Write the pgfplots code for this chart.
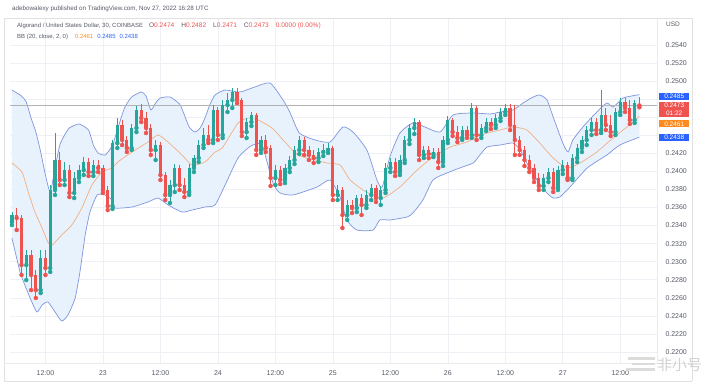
\documentclass[border=0pt]{standalone}
\usepackage{pgfplots}
\pgfplotsset{compat=1.18}
\usepackage{pgfplotstable}
\usepgfplotslibrary{fillbetween}
\usepackage{fontspec}
\setmainfont{Liberation Sans}
\newfontfamily\cjk{Noto Sans CJK SC}
\definecolor{cgreen}{HTML}{26A69A}
\definecolor{cred}{HTML}{EF5350}
\definecolor{cband}{HTML}{7F95DC}
\definecolor{cfill}{HTML}{E8F2FD}
\definecolor{cmid}{HTML}{F4AE80}
\definecolor{cblue}{HTML}{2962FF}
\definecolor{corange}{HTML}{FF8A1F}
\definecolor{ctext}{HTML}{555A66}
\definecolor{cgrid}{HTML}{EEF0F5}

\pgfplotstableread{
h O H L C
5 0.23440 0.23550 0.23406 0.23517
6 0.23517 0.23595 0.23351 0.23484
7 0.23484 0.23517 0.22853 0.22963
8 0.22963 0.23130 0.22797 0.23074
9 0.23074 0.23130 0.22686 0.22853
10 0.22853 0.22908 0.22598 0.22686
11 0.22686 0.23130 0.22653 0.23041
12 0.23041 0.23130 0.22853 0.22930
13 0.22930 0.23849 0.22886 0.23794
14 0.23794 0.24425 0.23739 0.24126
15 0.24126 0.24215 0.23849 0.23905
16 0.23905 0.24104 0.23849 0.24015
17 0.24015 0.24071 0.23716 0.23761
18 0.23761 0.23993 0.23705 0.23927
19 0.23927 0.24071 0.23882 0.24015
20 0.24015 0.24159 0.23960 0.24104
21 0.24104 0.24148 0.23949 0.23993
22 0.23993 0.24126 0.23949 0.24071
23 0.24071 0.24126 0.23993 0.24038
24 0.24038 0.24071 0.23761 0.23794
25 0.23794 0.23838 0.23572 0.23617
26 0.23617 0.24348 0.23584 0.24314
27 0.24314 0.24591 0.24259 0.24514
28 0.24514 0.24569 0.24292 0.24348
29 0.24348 0.24392 0.24215 0.24259
30 0.24259 0.24525 0.24237 0.24481
31 0.24481 0.24724 0.24436 0.24680
32 0.24680 0.24746 0.24547 0.24591
33 0.24591 0.24658 0.24425 0.24481
34 0.24481 0.24525 0.24182 0.24237
35 0.24237 0.24348 0.24126 0.24292
36 0.24292 0.24325 0.23905 0.23960
37 0.23960 0.23993 0.23683 0.23739
38 0.23739 0.23905 0.23650 0.23849
39 0.23849 0.24082 0.23772 0.24038
40 0.24038 0.24071 0.23794 0.23849
41 0.23849 0.23927 0.23716 0.23772
42 0.23772 0.24082 0.23739 0.24038
43 0.24038 0.24182 0.23993 0.24148
44 0.24148 0.24348 0.24104 0.24292
45 0.24292 0.24481 0.24259 0.24403
46 0.24403 0.24514 0.24314 0.24348
47 0.24348 0.24735 0.24314 0.24680
48 0.24680 0.24713 0.24348 0.24403
49 0.24403 0.24791 0.24370 0.24735
50 0.24735 0.24868 0.24658 0.24791
51 0.24791 0.24924 0.24702 0.24879
52 0.24879 0.24924 0.24757 0.24791
53 0.24791 0.24813 0.24392 0.24436
54 0.24436 0.24591 0.24370 0.24547
55 0.24547 0.24658 0.24503 0.24625
56 0.24625 0.24647 0.24182 0.24237
57 0.24237 0.24392 0.24204 0.24348
58 0.24348 0.24403 0.24215 0.24259
59 0.24259 0.24292 0.23838 0.23927
60 0.23927 0.24071 0.23849 0.24015
61 0.24015 0.24060 0.23860 0.23905
62 0.23905 0.24082 0.23871 0.24038
63 0.24038 0.24170 0.23993 0.24126
64 0.24126 0.24281 0.24082 0.24237
65 0.24237 0.24392 0.24193 0.24348
66 0.24348 0.24381 0.24182 0.24237
67 0.24237 0.24281 0.24126 0.24182
68 0.24182 0.24237 0.24093 0.24148
69 0.24148 0.24259 0.24104 0.24215
70 0.24215 0.24303 0.24170 0.24237
71 0.24237 0.24314 0.24204 0.24259
72 0.24259 0.24281 0.23683 0.23739
73 0.23739 0.23849 0.23683 0.23794
74 0.23794 0.23827 0.23373 0.23517
75 0.23517 0.23683 0.23462 0.23628
76 0.23628 0.23683 0.23539 0.23595
77 0.23595 0.23739 0.23550 0.23705
78 0.23705 0.23750 0.23517 0.23628
79 0.23628 0.23794 0.23595 0.23739
80 0.23739 0.23860 0.23683 0.23816
81 0.23816 0.23849 0.23661 0.23705
82 0.23705 0.23838 0.23628 0.23794
83 0.23794 0.24093 0.23761 0.24038
84 0.24038 0.24148 0.23993 0.24104
85 0.24104 0.24148 0.23949 0.23993
86 0.23993 0.24182 0.23960 0.24126
87 0.24126 0.24392 0.24093 0.24348
88 0.24348 0.24525 0.24303 0.24481
89 0.24481 0.24591 0.24414 0.24547
90 0.24547 0.24569 0.24126 0.24182
91 0.24182 0.24281 0.24148 0.24237
92 0.24237 0.24281 0.24148 0.24193
93 0.24193 0.24259 0.24159 0.24215
94 0.24215 0.24259 0.24038 0.24104
95 0.24104 0.24392 0.24060 0.24348
96 0.24348 0.24613 0.24314 0.24569
97 0.24569 0.24591 0.24392 0.24436
98 0.24436 0.24503 0.24325 0.24370
99 0.24370 0.24503 0.24348 0.24458
100 0.24458 0.24503 0.24370 0.24403
101 0.24403 0.24757 0.24370 0.24702
102 0.24702 0.24724 0.24348 0.24403
103 0.24403 0.24525 0.24370 0.24481
104 0.24481 0.24591 0.24447 0.24547
105 0.24547 0.24591 0.24469 0.24514
106 0.24514 0.24636 0.24481 0.24591
107 0.24591 0.24702 0.24558 0.24658
108 0.24658 0.24746 0.24625 0.24702
109 0.24702 0.24746 0.24458 0.24514
110 0.24514 0.24735 0.24182 0.24348
111 0.24348 0.24392 0.24182 0.24237
112 0.24237 0.24281 0.24060 0.24126
113 0.24126 0.24182 0.23993 0.24038
114 0.24038 0.24082 0.23882 0.23927
115 0.23927 0.23982 0.23794 0.23838
116 0.23838 0.23971 0.23794 0.23927
117 0.23927 0.24038 0.23882 0.23993
118 0.23993 0.24038 0.23772 0.23816
119 0.23816 0.24060 0.23794 0.24015
120 0.24015 0.24126 0.23971 0.24071
121 0.24071 0.24104 0.23905 0.23927
122 0.23927 0.24193 0.23905 0.24148
123 0.24148 0.24303 0.24104 0.24259
124 0.24259 0.24392 0.24215 0.24348
125 0.24348 0.24503 0.24292 0.24458
126 0.24458 0.24591 0.24403 0.24547
127 0.24547 0.24591 0.24414 0.24458
128 0.24458 0.24901 0.24425 0.24625
129 0.24625 0.24702 0.24458 0.24514
130 0.24514 0.24625 0.24392 0.24436
131 0.24436 0.24702 0.24403 0.24658
132 0.24658 0.24813 0.24625 0.24768
133 0.24768 0.24813 0.24658 0.24702
134 0.24702 0.24791 0.24525 0.24569
135 0.24569 0.24791 0.24536 0.24757
136 0.24740 0.24820 0.24710 0.24730
}\candles

\pgfplotstableread{
h p
5 0.24901
7 0.24835
8 0.24768
9 0.24591
10 0.24436
11 0.24215
12 0.23960
13 0.23772
14 0.24038
15 0.24292
16 0.24403
17 0.24481
19 0.24525
21 0.24458
22 0.24292
23 0.24204
24.5 0.24182
26 0.24292
27 0.24458
28.5 0.24702
30 0.24824
32 0.24879
33 0.24835
34 0.24680
35 0.24757
36 0.24813
38 0.24824
40 0.24746
41 0.24625
42 0.24492
43.2 0.24436
44.3 0.24481
45.3 0.24591
46.3 0.24735
47.4 0.24846
49.5 0.24901
52.6 0.24879
55.7 0.24935
58.9 0.24979
61.6 0.24791
63 0.24658
65 0.24425
68.3 0.24348
71.4 0.24325
74.1 0.24492
76.2 0.24436
79.1 0.24237
81.2 0.23905
82.3 0.23827
83.9 0.24159
86 0.24425
88.7 0.24536
91.2 0.24492
94.4 0.24436
97.1 0.24625
101.3 0.24647
104.8 0.24636
106.9 0.24658
109.6 0.24680
111.7 0.24757
113.8 0.24824
115.2 0.24846
116.7 0.24791
118 0.24602
120 0.24314
121.1 0.24215
122.1 0.24348
124.2 0.24492
127.1 0.24658
129.2 0.24757
130.5 0.24713
132.6 0.24813
136 0.24850
}\bbupper

\pgfplotstableread{
h p
5 0.23262
6.7 0.22886
7.7 0.22742
8.8 0.22598
10.2 0.22443
11.3 0.22520
12.5 0.22554
14 0.22443
15.4 0.22343
16.7 0.22410
18.2 0.22598
19.2 0.22886
20.3 0.23296
21.3 0.23550
22.8 0.23739
24.4 0.23739
25.9 0.23683
26.5 0.23595
30.1 0.23606
33.4 0.23661
35.5 0.23705
37.6 0.23628
40.5 0.23550
42.6 0.23572
45.3 0.23606
47.4 0.23628
49.5 0.23849
52.2 0.24148
54.3 0.24259
55.3 0.24292
57.2 0.24292
59.5 0.23871
61 0.23761
63.7 0.23739
68.7 0.23827
71.4 0.23905
73.5 0.23716
74.9 0.23462
77 0.23351
80.4 0.23351
81.8 0.23462
83.9 0.23462
87.5 0.23495
88.7 0.23539
90.8 0.23683
92.9 0.23905
95.8 0.23982
98.5 0.24038
101.3 0.24093
102.7 0.24182
104.2 0.24270
106.9 0.24292
109.6 0.24314
111.1 0.24237
112.5 0.24093
114.6 0.23905
116.7 0.23761
118 0.23705
119.4 0.23716
121.5 0.23827
125.1 0.24038
129.2 0.24182
131.9 0.24292
136 0.24380
}\bblower

\pgfplotstableread{
h p
5 0.24093
7.1 0.23993
8.4 0.23772
9.8 0.23550
11.3 0.23373
12.5 0.23218
13.4 0.23185
15.4 0.23296
17.5 0.23406
19.6 0.23595
21.7 0.23849
23.8 0.23993
25.9 0.24038
27.1 0.24104
30.1 0.24215
33.4 0.24325
35.5 0.24403
37.6 0.24325
40.5 0.24182
42.6 0.24071
45.3 0.24104
47.4 0.24215
48.9 0.24259
52.2 0.24536
54.3 0.24591
56.4 0.24569
59.3 0.24481
62 0.24325
64.7 0.24182
68.3 0.24126
70.8 0.24093
73.5 0.24071
75.6 0.23905
78.3 0.23794
80.4 0.23739
82.5 0.23705
86 0.23827
89.6 0.24015
92.9 0.24159
96.5 0.24270
100 0.24325
102.7 0.24403
106.9 0.24458
109.6 0.24492
112.5 0.24458
115.2 0.24314
118 0.24148
120.9 0.24038
123.6 0.24093
127.1 0.24215
130.5 0.24370
133.4 0.24492
136 0.24610
}\bbmid

\begin{document}
\begin{tikzpicture}
\path (0,0) rectangle (718bp,384bp);
\begin{axis}[
  at={(10bp,21bp)}, anchor=south west,
  scale only axis, width=647bp, height=345bp,
  xmin=4.6, xmax=139.67, ymin=0.21878, ymax=0.25699,
  clip=false,
  axis line style={draw=none},
  tick style={draw=none},
  major tick length=0pt,
  grid=major,
  major grid style={cgrid, line width=0.6bp},
  xtick={12,24,36,48,60,72,84,96,108,120,132},
  xticklabels={12:00,23,12:00,24,12:00,25,12:00,26,12:00,27,12:00},
  ytick={0.220,0.222,0.224,0.226,0.228,0.230,0.232,0.234,0.236,0.238,0.240,0.242,0.244,0.246,0.248,0.250,0.252,0.254},
  yticklabels={0.2200,0.2220,0.2240,0.2260,0.2280,0.2300,0.2320,0.2340,0.2360,0.2380,0.2400,0.2420,,,,0.2500,0.2520,0.2540},
  scaled y ticks=false,
  yticklabel pos=right,
  yticklabel style={anchor=west, xshift=5bp, text=ctext, font=\fontsize{7}{8}\selectfont},
  xticklabel style={anchor=base, yshift=-12bp, text=ctext, font=\fontsize{7}{8}\selectfont},
]
% Bollinger bands
\addplot[name path=U, draw=none, smooth, tension=0.35, forget plot] table[x=h, y=p] {\bbupper};
\addplot[name path=L, draw=none, smooth, tension=0.35, forget plot] table[x=h, y=p] {\bblower};
\addplot[fill=cfill, draw=none, forget plot] fill between[of=U and L, on layer=main];
\addplot[cband, line width=0.7bp, smooth, tension=0.35, forget plot] table[x=h, y=p] {\bbupper};
\addplot[cband, line width=0.7bp, smooth, tension=0.35, forget plot] table[x=h, y=p] {\bblower};
\addplot[cmid, line width=0.7bp, smooth, tension=0.35, forget plot] table[x=h, y=p] {\bbmid};
% price line
\addplot[black!30, line width=0.5bp, forget plot] coordinates {(4.6,0.2473) (139.67,0.2473)};
% wicks
\addplot[cgreen, only marks, mark=none, forget plot,
  error bars/.cd, y dir=plus, y explicit, error mark=none,
  error bar style={line width=0.8bp, cgreen}]
  table[x=h, y expr={(\thisrow{C}>=\thisrow{O}) ? \thisrow{L} : nan}, y error plus expr={\thisrow{H}-\thisrow{L}}] {\candles};
\addplot[cred, only marks, mark=none, forget plot,
  error bars/.cd, y dir=plus, y explicit, error mark=none,
  error bar style={line width=0.8bp, cred}]
  table[x=h, y expr={(\thisrow{C}<\thisrow{O}) ? \thisrow{L} : nan}, y error plus expr={\thisrow{H}-\thisrow{L}}] {\candles};
% bodies
\addplot[cgreen, only marks, mark=none, forget plot,
  error bars/.cd, y dir=plus, y explicit, error mark=none,
  error bar style={line width=3.2bp, cgreen}]
  table[x=h, y expr={(\thisrow{C}>=\thisrow{O}) ? \thisrow{O} : nan}, y error plus expr={\thisrow{C}-\thisrow{O}+0.00003}] {\candles};
\addplot[cred, only marks, mark=none, forget plot,
  error bars/.cd, y dir=plus, y explicit, error mark=none,
  error bar style={line width=3.2bp, cred}]
  table[x=h, y expr={(\thisrow{C}<\thisrow{O}) ? \thisrow{C} : nan}, y error plus expr={\thisrow{O}-\thisrow{C}+0.00003}] {\candles};
% right price labels
\node[anchor=west, fill=cblue, text=white, inner sep=1.2bp, minimum width=30bp, font=\fontsize{6.5}{7}\selectfont] at (axis cs:139.67,0.2485) [xshift=2bp, yshift=-1.5bp] {0.2485};
\node[anchor=north west, fill=cred, text=white, inner sep=1.2bp, minimum width=30bp, align=center, font=\fontsize{6.5}{8}\selectfont] at (axis cs:139.67,0.2473) [xshift=2bp, yshift=4bp] {0.2473\\01:22};
\node[anchor=west, fill=corange, text=white, inner sep=1.2bp, minimum width=30bp, font=\fontsize{6.5}{7}\selectfont] at (axis cs:139.67,0.2461) [xshift=2bp, yshift=-7.5bp] {0.2461};
\node[anchor=west, fill=cblue, text=white, inner sep=1.2bp, minimum width=30bp, font=\fontsize{6.5}{7}\selectfont] at (axis cs:139.67,0.2438) [xshift=2bp] {0.2438};
\end{axis}
% pane borders
\draw[black!12, line width=0.6bp] (4bp,366bp) -- (692bp,366bp) -- (692bp,3bp);
\draw[black!12, line width=0.6bp] (4bp,3bp) -- (4bp,366bp);
\draw[black!12, line width=0.6bp] (4bp,3bp) -- (692bp,3bp);
\draw[black!8, line width=0.6bp] (657bp,21bp) -- (657bp,366bp);
\draw[black!8, line width=0.6bp] (4bp,21bp) -- (692bp,21bp);
% header texts
\node[anchor=west, text=ctext, inner sep=0pt, font=\fontsize{6.3}{7}\selectfont] at (12bp,375bp) {adebowalexy published on TradingView.com, Nov 27, 2022 16:28 UTC};
\node[anchor=west, inner sep=0pt, font=\fontsize{6}{7}\selectfont] at (17bp,358bp) {\textcolor{ctext}{Algorand / United States Dollar, 30, COINBASE}\hspace{6bp}{\fontsize{6.6}{7}\selectfont\textcolor{ctext}{O}\textcolor{cred}{0.2474}\hspace{7bp}\textcolor{ctext}{H}\textcolor{cred}{0.2482}\hspace{7bp}\textcolor{ctext}{L}\textcolor{cred}{0.2471}\hspace{7bp}\textcolor{ctext}{C}\textcolor{cred}{0.2473}\hspace{7bp}\textcolor{cred}{0.0000 (0.00\%)}}};
\node[anchor=west, inner sep=0pt, font=\fontsize{6}{7}\selectfont] at (17bp,347bp) {\textcolor{ctext}{BB (20, close, 2, 0)}\hspace{7bp}\textcolor{corange}{0.2461}\hspace{4bp}\textcolor{cblue}{0.2485}\hspace{4bp}\textcolor{cblue}{0.2438}};
\node[anchor=west, text=ctext, inner sep=0pt, font=\fontsize{6.5}{7}\selectfont] at (666bp,360bp) {USD};
% watermark
\fill[black!16, fill opacity=0.85] (628bp,24bp) rectangle (655bp,26.5bp);
\fill[black!16, fill opacity=0.85] (632bp,18.5bp) rectangle (655bp,21bp);
\fill[black!16, fill opacity=0.85] (626bp,13bp) rectangle (655bp,15.5bp);
\node[anchor=west, text=black!18, inner sep=0pt, font=\cjk\fontsize{15}{15}\selectfont] at (657bp,19.5bp) {非小号};
\end{tikzpicture}
\end{document}
